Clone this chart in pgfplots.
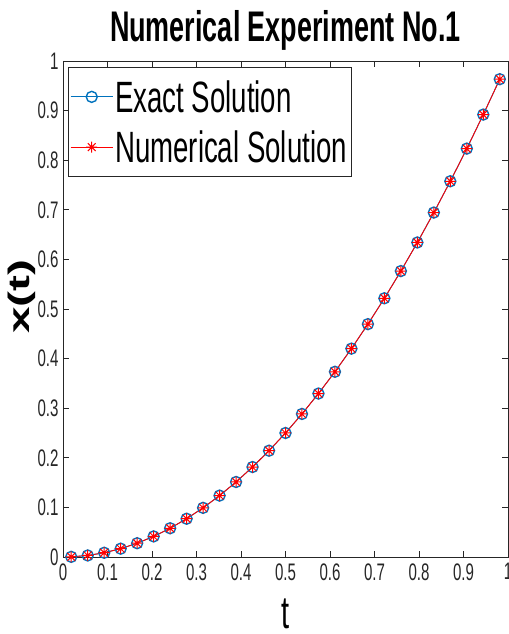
\documentclass[border=0pt]{standalone}
\usepackage{pgfplots}
\pgfplotsset{compat=1.18}
\usepackage{fontspec}
\setmainfont[FakeStretch=0.63]{Liberation Sans}
\newfontfamily\plainfont{Liberation Sans}
\definecolor{mblue}{rgb}{0,0.447,0.741}
\definecolor{axgray}{rgb}{0.15,0.15,0.15}
\pgfdeclareplotmark{mstar}{%
  \pgfpathmoveto{\pgfqpoint{-\pgfplotmarksize}{0pt}}%
  \pgfpathlineto{\pgfqpoint{\pgfplotmarksize}{0pt}}%
  \pgfpathmoveto{\pgfqpoint{0pt}{-\pgfplotmarksize}}%
  \pgfpathlineto{\pgfqpoint{0pt}{\pgfplotmarksize}}%
  \pgfpathmoveto{\pgfqpoint{-0.707\pgfplotmarksize}{-0.707\pgfplotmarksize}}%
  \pgfpathlineto{\pgfqpoint{0.707\pgfplotmarksize}{0.707\pgfplotmarksize}}%
  \pgfpathmoveto{\pgfqpoint{-0.707\pgfplotmarksize}{0.707\pgfplotmarksize}}%
  \pgfpathlineto{\pgfqpoint{0.707\pgfplotmarksize}{-0.707\pgfplotmarksize}}%
  \pgfusepathqstroke}
\pgfplotstableread{
t x
0.018519 0.000343
0.055556 0.003086
0.092593 0.008573
0.129630 0.016804
0.166667 0.027778
0.203704 0.041495
0.240741 0.057956
0.277778 0.077160
0.314815 0.099108
0.351852 0.123800
0.388889 0.151235
0.425926 0.181413
0.462963 0.214335
0.500000 0.250000
0.537037 0.288409
0.574074 0.329561
0.611111 0.373457
0.648148 0.420096
0.685185 0.469479
0.722222 0.521605
0.759259 0.576474
0.796296 0.634088
0.833333 0.694444
0.870370 0.757544
0.907407 0.823388
0.944444 0.891975
0.981481 0.963306
}\exacttbl
\pgfplotstableread{
t x
0.018519 0.000343
0.055556 0.003086
0.092593 0.008573
0.129630 0.016804
0.166667 0.027778
0.203704 0.041495
0.240741 0.057956
0.277778 0.077160
0.314815 0.099108
0.351852 0.123800
0.388889 0.151235
0.425926 0.181413
0.462963 0.214335
0.500000 0.250000
0.537037 0.288409
0.574074 0.329561
0.611111 0.373457
0.648148 0.420096
0.685185 0.469479
0.722222 0.521605
0.759259 0.576474
0.796296 0.634088
0.833333 0.694444
0.870370 0.757544
0.907407 0.823388
0.944444 0.891975
0.981481 0.963306
}\numtbl
\begin{document}
\begin{tikzpicture}
\useasboundingbox (0,0) rectangle (509bp,634bp);
\begin{axis}[
  at={(63bp,77bp)}, anchor=south west,
  scale only axis, width=445bp, height=496bp,
  xmin=0, xmax=1, ymin=0, ymax=1,
  xtick={0,0.1,0.2,0.3,0.4,0.5,0.6,0.7,0.8,0.9,1},
  ytick={0,0.1,0.2,0.3,0.4,0.5,0.6,0.7,0.8,0.9,1},
  xticklabels={0,0.1,0.2,0.3,0.4,0.5,0.6,0.7,0.8,0.9,1},
  yticklabels={0,0.1,0.2,0.3,0.4,0.5,0.6,0.7,0.8,0.9,1},
  tick align=inside, major tick length=6bp,
  tick style={axgray, line width=0.8bp},
  axis line style={axgray, line width=0.8bp},
  ticklabel style={font=\fontsize{24}{26}\selectfont, text=axgray},
  xticklabel style={yshift=-3bp},
  yticklabel style={xshift=-1bp},
  title={Numerical Experiment No.1},
  title style={font=\fontsize{43}{46}\selectfont\bfseries, at={(axis description cs:0.5,1)}, anchor=base, yshift=14bp},
  xlabel={t},
  xlabel style={font=\fontsize{46}{50}\selectfont, at={(axis description cs:0.5,0)}, anchor=center, yshift=-57bp},
  ylabel={\scalebox{1}[0.62]{\plainfont\bfseries x(t)}},
  ylabel style={font=\fontsize{48}{52}\selectfont, at={(axis description cs:-0.092,0.525)}, anchor=center},
  legend style={at={(axis description cs:0.0112,0.988)}, anchor=north west,
    font=\fontsize{44}{48}\selectfont, draw=axgray, line width=0.6bp,
    inner xsep=2bp, inner ysep=11bp, row sep=13bp, cells={anchor=west}},
  legend image code/.code={\draw[mark repeat=2,mark phase=2] plot coordinates {(0bp,0bp)(21bp,0bp)(42bp,0bp)};},
]
\addplot[color=mblue, line width=0.9bp, mark=o, mark size=5.5bp, mark options={line width=1.4bp}] table[x=t,y=x] {\exacttbl};
\addlegendentry{Exact Solution}
\addplot[color=red, line width=0.9bp, mark=mstar, mark size=5.5bp, mark options={line width=1bp}] table[x=t,y=x] {\numtbl};
\addlegendentry{Numerical Solution}
\end{axis}
\end{tikzpicture}
\end{document}
